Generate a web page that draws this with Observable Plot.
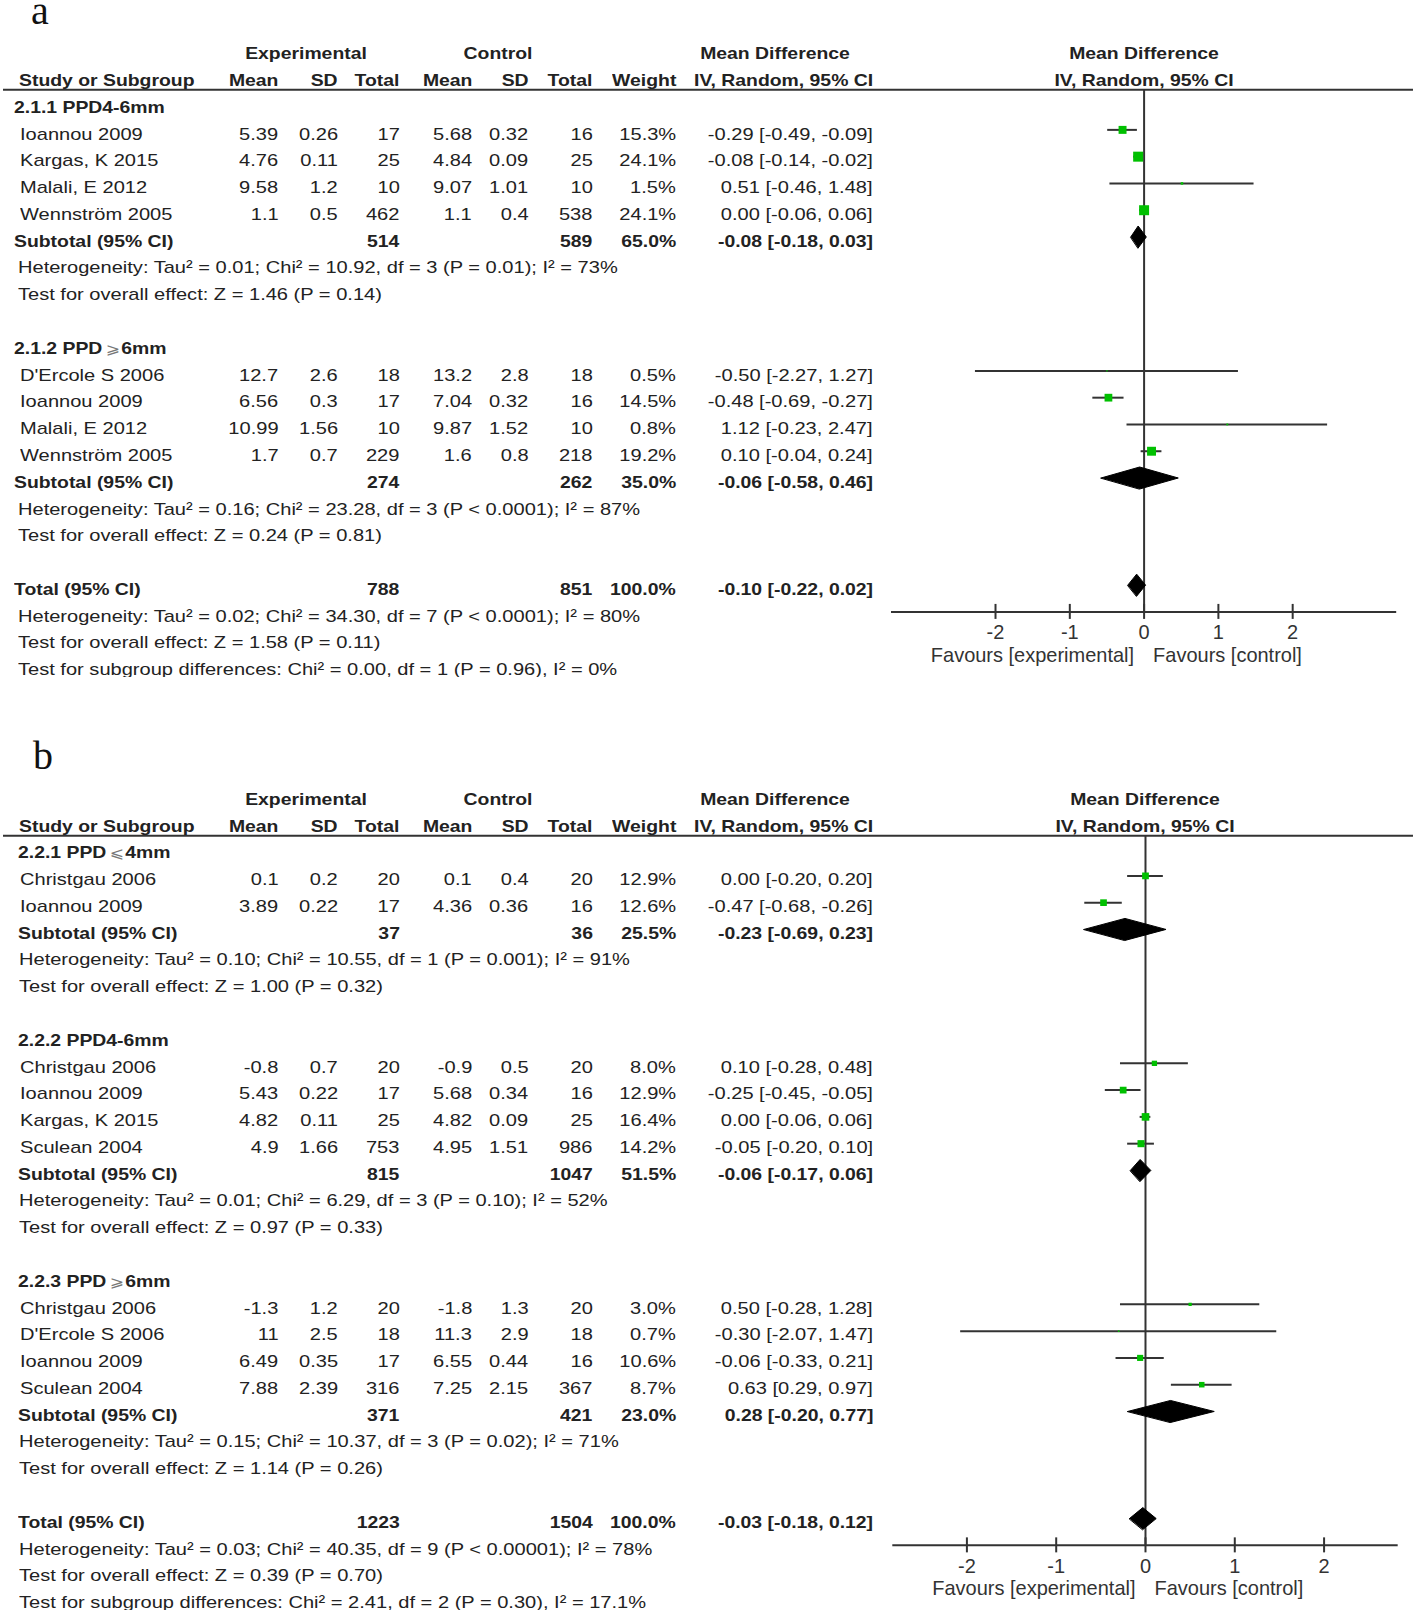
<!DOCTYPE html>
<html><head><meta charset="utf-8">
<script src="https://cdn.jsdelivr.net/npm/d3@7"></script>
<script src="https://cdn.jsdelivr.net/npm/@observablehq/plot@0.6"></script>
<style>
html,body{margin:0;padding:0;background:#fff;}
body{width:1418px;height:1614px;position:relative;overflow:hidden;font-family:'Liberation Sans',Arial,sans-serif;color:#222;}
.panel{position:absolute;left:0;width:1418px;overflow:hidden;}
.panel svg{position:absolute;left:0;top:0;}
.overlay{position:absolute;left:0;top:0;width:1418px;height:100%;}
.c{position:absolute;height:20px;line-height:20px;font-size:17px;white-space:nowrap;color:#222;}
.b{font-weight:700;}
.lbl{position:absolute;font-family:'Liberation Serif','DejaVu Serif',serif;font-size:40px;line-height:20px;height:20px;color:#111;}
.sym{font-family:'DejaVu Sans','Noto Sans CJK SC',sans-serif;font-weight:400;color:#777;font-size:15px;margin:0 1px 0 3px;}
</style></head><body>
<div class="lbl" style="left:31px;top:0.5px">a</div>
<div class="lbl" style="left:33px;top:745.8px">b</div>
<div class="panel" id="pa"></div>
<div class="panel" id="pb"></div>
<script>
// ---------------- DATA ----------------
// study rows: name, expMean, expSD, expN, ctlMean, ctlSD, ctlN, weight(%), MD, lower, upper
const titlesA = ["2.1.1 PPD4-6mm", "2.1.2 PPD ⩾6mm"];
const studiesA1 = [
  ["Ioannou 2009", 5.39, 0.26, 17, 5.68, 0.32, 16, 15.3, -0.29, -0.49, -0.09],
  ["Kargas, K 2015", 4.76, 0.11, 25, 4.84, 0.09, 25, 24.1, -0.08, -0.14, -0.02],
  ["Malali, E 2012", 9.58, 1.2, 10, 9.07, 1.01, 10, 1.5, 0.51, -0.46, 1.48],
  ["Wennström 2005", 1.1, 0.5, 462, 1.1, 0.4, 538, 24.1, 0.00, -0.06, 0.06]
];
const studiesA2 = [
  ["D'Ercole S 2006", 12.7, 2.6, 18, 13.2, 2.8, 18, 0.5, -0.50, -2.27, 1.27],
  ["Ioannou 2009", 6.56, 0.3, 17, 7.04, 0.32, 16, 14.5, -0.48, -0.69, -0.27],
  ["Malali, E 2012", 10.99, 1.56, 10, 9.87, 1.52, 10, 0.8, 1.12, -0.23, 2.47],
  ["Wennström 2005", 1.7, 0.7, 229, 1.6, 0.8, 218, 19.2, 0.10, -0.04, 0.24]
];
// subtotal: expN, ctlN, weight, MD, lower, upper
const subtotalsA = [[514, 589, 65.0, -0.08, -0.18, 0.03], [274, 262, 35.0, -0.06, -0.58, 0.46]];
const hetA = ["Heterogeneity: Tau² = 0.01; Chi² = 10.92, df = 3 (P = 0.01); I² = 73%",
              "Heterogeneity: Tau² = 0.16; Chi² = 23.28, df = 3 (P < 0.0001); I² = 87%"];
const testA = ["Test for overall effect: Z = 1.46 (P = 0.14)", "Test for overall effect: Z = 0.24 (P = 0.81)"];
const totalA = [788, 851, 100.0, -0.10, -0.22, 0.02];
const totalNotesA = ["Heterogeneity: Tau² = 0.02; Chi² = 34.30, df = 7 (P < 0.0001); I² = 80%",
                     "Test for overall effect: Z = 1.58 (P = 0.11)",
                     "Test for subgroup differences: Chi² = 0.00, df = 1 (P = 0.96), I² = 0%"];

const titlesB = ["2.2.1 PPD ⩽4mm", "2.2.2 PPD4-6mm", "2.2.3 PPD ⩾6mm"];
const studiesB1 = [
  ["Christgau 2006", 0.1, 0.2, 20, 0.1, 0.4, 20, 12.9, 0.00, -0.20, 0.20],
  ["Ioannou 2009", 3.89, 0.22, 17, 4.36, 0.36, 16, 12.6, -0.47, -0.68, -0.26]
];
const studiesB2 = [
  ["Christgau 2006", -0.8, 0.7, 20, -0.9, 0.5, 20, 8.0, 0.10, -0.28, 0.48],
  ["Ioannou 2009", 5.43, 0.22, 17, 5.68, 0.34, 16, 12.9, -0.25, -0.45, -0.05],
  ["Kargas, K 2015", 4.82, 0.11, 25, 4.82, 0.09, 25, 16.4, 0.00, -0.06, 0.06],
  ["Sculean 2004", 4.9, 1.66, 753, 4.95, 1.51, 986, 14.2, -0.05, -0.20, 0.10]
];
const studiesB3 = [
  ["Christgau 2006", -1.3, 1.2, 20, -1.8, 1.3, 20, 3.0, 0.50, -0.28, 1.28],
  ["D'Ercole S 2006", 11, 2.5, 18, 11.3, 2.9, 18, 0.7, -0.30, -2.07, 1.47],
  ["Ioannou 2009", 6.49, 0.35, 17, 6.55, 0.44, 16, 10.6, -0.06, -0.33, 0.21],
  ["Sculean 2004", 7.88, 2.39, 316, 7.25, 2.15, 367, 8.7, 0.63, 0.29, 0.97]
];
const subtotalsB = [[37, 36, 25.5, -0.23, -0.69, 0.23], [815, 1047, 51.5, -0.06, -0.17, 0.06], [371, 421, 23.0, 0.28, -0.20, 0.77]];
const hetB = ["Heterogeneity: Tau² = 0.10; Chi² = 10.55, df = 1 (P = 0.001); I² = 91%",
              "Heterogeneity: Tau² = 0.01; Chi² = 6.29, df = 3 (P = 0.10); I² = 52%",
              "Heterogeneity: Tau² = 0.15; Chi² = 10.37, df = 3 (P = 0.02); I² = 71%"];
const testB = ["Test for overall effect: Z = 1.00 (P = 0.32)", "Test for overall effect: Z = 0.97 (P = 0.33)",
               "Test for overall effect: Z = 1.14 (P = 0.26)"];
const totalB = [1223, 1504, 100.0, -0.03, -0.18, 0.12];
const totalNotesB = ["Heterogeneity: Tau² = 0.03; Chi² = 40.35, df = 9 (P < 0.00001); I² = 78%",
                     "Test for overall effect: Z = 0.39 (P = 0.70)",
                     "Test for subgroup differences: Chi² = 2.41, df = 2 (P = 0.30), I² = 17.1%"];

const headerTop = ["Experimental", "Control", "Mean Difference"];
const headerCols = ["Study or Subgroup", "Mean", "SD", "Total", "Mean", "SD", "Total", "Weight", "IV, Random, 95% CI"];
const forestHeader = ["Mean Difference", "IV, Random, 95% CI"];
const favours = ["Favours [experimental]", "Favours [control]"];
const TICKS = [-2, -1, 0, 1, 2];

// ---------------- LAYOUT / STYLE ----------------
const W = 1418, ROW = 26.78, Y0 = 102.6, TXT_DY = 5.2, SX = 1.18, SXB = 1.14;
const FONT = "'Liberation Sans', Arial, sans-serif";
const COLS = {em: 278.5, es: 338, et: 399.5, cm: 472, cs: 528.5, ct: 592.5, w: 676, ci: 873};
const TOPX = {exp: 306, ctl: 497.5, md: 775};

const fmtCI = (m, l, h) => `${m.toFixed(2)} [${l.toFixed(2)}, ${h.toFixed(2)}]`;
const fmtW = w => w.toFixed(1) + "%";

function addCell(ov, text, x, yc, align, bold) {
  const s = document.createElement("span");
  s.className = "c" + (bold ? " b" : "");
  const m = text.match(/[⩾⩽]/);
  if (m) {
    const parts = text.split(m[0]);
    s.append(parts[0].trimEnd());
    const sy = document.createElement("span"); sy.className = "sym"; sy.textContent = m[0];
    s.append(sy, parts[1]);
  } else s.textContent = text;
  const k = bold ? SXB : SX;
  s.style.top = (yc - 10) + "px";
  if (align === "left") { s.style.left = x + "px"; s.style.transformOrigin = "0 50%"; s.style.transform = `scaleX(${k})`; }
  else if (align === "right") { s.style.right = (W - x) + "px"; s.style.transformOrigin = "100% 50%"; s.style.transform = `scaleX(${k})`; }
  else { s.style.left = x + "px"; s.style.transformOrigin = "50% 50%"; s.style.transform = `translateX(-50%) scaleX(${k})`; }
  ov.append(s);
}

function buildPanel(elId, spec) {
  // row layout
  const rows = [];
  let i = 0;
  spec.groups.forEach((g, k) => {
    rows.push({i: i++, kind: "title", text: spec.titles[k]});
    g.forEach(s => rows.push({i: i++, kind: "study", s}));
    rows.push({i: i++, kind: "sub", s: spec.subtotals[k]});
    rows.push({i: i++, kind: "note", text: spec.het[k]});
    rows.push({i: i++, kind: "note", text: spec.test[k]});
    i++;
  });
  const totalRow = i;
  rows.push({i: i++, kind: "total", s: spec.total});
  spec.totalNotes.forEach(t => rows.push({i: i++, kind: "note", text: t}));
  const lastRow = i - 1;
  const axisRow = totalRow + 1;

  const axisY = Y0 + axisRow * ROW;
  const H = Y0 + lastRow * ROW + TXT_DY + 7;

  const studyData = rows.filter(r => r.kind === "study").map(r => ({row: r.i, w: r.s[7], md: r.s[8], lo: r.s[9], hi: r.s[10]}));
  const DH = 11 / ROW;
  const diamonds = rows.filter(r => r.kind === "sub" || r.kind === "total").flatMap((r, k) => {
    const [, , , md, lo, hi] = r.s;
    return [{id: k, x: lo, y: r.i}, {id: k, x: md, y: r.i - DH}, {id: k, x: hi, y: r.i}, {id: k, x: md, y: r.i + DH}];
  });
  const [d0, d1] = spec.xDomain;
  const TH = 7.5 / ROW;

  const chart = Plot.plot({
    width: W, height: H,
    marginLeft: 3, marginRight: 5, marginTop: 0, marginBottom: H - axisY,
    x: {domain: spec.xDomain, range: spec.xRange, label: null},
    y: {domain: [-0.5, axisRow], range: [Y0 - 0.5 * ROW, axisY], axis: null},
    r: {domain: [0, spec.rMaxW], range: [0, spec.rMax]},
    style: {fontFamily: FONT, fontSize: "20px", color: "#333", background: "transparent", overflow: "visible"},
    marks: [
      Plot.ruleY([-0.5], {stroke: "#333", strokeWidth: 2}),
      Plot.ruleX([0], {y1: () => -0.5, y2: () => axisRow, stroke: "#333", strokeWidth: 2}),
      Plot.ruleY(studyData, {y: "row", x1: "lo", x2: "hi", stroke: "#333", strokeWidth: 2}),
      Plot.dot(studyData, {x: "md", y: "row", r: "w", symbol: "square", fill: "#00c000"}),
      Plot.line(diamonds, {x: "x", y: "y", z: "id", curve: "linear-closed", fill: "#000", stroke: "#000", strokeWidth: 1}),
      Plot.ruleY([axisRow], {x1: () => d0, x2: () => d1, stroke: "#333", strokeWidth: 2}),
      Plot.ruleX(TICKS, {x: d => d, y1: () => axisRow - TH, y2: () => axisRow + TH, stroke: "#333", strokeWidth: 2}),
      Plot.axisX({ticks: TICKS, tickSize: 0, tickPadding: 13, tickFormat: d => String(d), label: null, fontSize: 20}),
      Plot.text([favours[0]], {x: [0], text: d => d, frameAnchor: "bottom", lineAnchor: "middle", dy: 43.4, dx: -10, textAnchor: "end", fontSize: 20, fill: "#333"}),
      Plot.text([favours[1]], {x: [0], text: d => d, frameAnchor: "bottom", lineAnchor: "middle", dy: 43.4, dx: 9, textAnchor: "start", fontSize: 20, fill: "#333"})
    ]
  });

  const el = document.getElementById(elId);
  el.style.top = spec.top + "px";
  el.style.height = H + "px";
  el.append(chart);
  const ov = document.createElement("div");
  ov.className = "overlay";
  el.append(ov);

  const ys = chart.scale("y"), xs = chart.scale("x");
  const ty = k => ys.apply(k) + TXT_DY;
  const x0 = xs.apply(0);

  // header rows
  addCell(ov, headerTop[0], TOPX.exp, ty(-2), "center", true);
  addCell(ov, headerTop[1], TOPX.ctl, ty(-2), "center", true);
  addCell(ov, headerTop[2], TOPX.md, ty(-2), "center", true);
  addCell(ov, forestHeader[0], x0, ty(-2), "center", true);
  const colKeys = ["em", "es", "et", "cm", "cs", "ct", "w", "ci"];
  addCell(ov, headerCols[0], spec.leftName - 0.5, ty(-1), "left", true);
  colKeys.forEach((c, k) => addCell(ov, headerCols[k + 1], COLS[c], ty(-1), "right", true));
  addCell(ov, forestHeader[1], x0, ty(-1), "center", true);

  for (const r of rows) {
    const y = ty(r.i);
    if (r.kind === "title") addCell(ov, r.text, spec.leftBold, y, "left", true);
    else if (r.kind === "note") addCell(ov, r.text, spec.leftText, y, "left", false);
    else if (r.kind === "study") {
      const s = r.s;
      addCell(ov, s[0], spec.leftName, y, "left", false);
      [s[1], s[2], s[3], s[4], s[5], s[6]].forEach((v, k) => addCell(ov, String(v), COLS[colKeys[k]], y, "right", false));
      addCell(ov, fmtW(s[7]), COLS.w, y, "right", false);
      addCell(ov, fmtCI(s[8], s[9], s[10]), COLS.ci, y, "right", false);
    } else {
      const s = r.s;
      addCell(ov, r.kind === "sub" ? "Subtotal (95% CI)" : "Total (95% CI)", spec.leftBold, y, "left", true);
      addCell(ov, String(s[0]), COLS.et, y, "right", true);
      addCell(ov, String(s[1]), COLS.ct, y, "right", true);
      addCell(ov, fmtW(s[2]), COLS.w, y, "right", true);
      addCell(ov, fmtCI(s[3], s[4], s[5]), COLS.ci, y, "right", true);
    }
  }
}

buildPanel("pa", {
  top: 0, titles: titlesA, groups: [studiesA1, studiesA2], subtotals: subtotalsA,
  het: hetA, test: testA, total: totalA, totalNotes: totalNotesA,
  xDomain: [-3.4, 3.4], xRange: [891.0, 1396.2], rMaxW: 24.1, rMax: 5.64,
  leftBold: 14, leftName: 19.5, leftText: 18
});
buildPanel("pb", {
  top: 745.5, titles: titlesB, groups: [studiesB1, studiesB2, studiesB3], subtotals: subtotalsB,
  het: hetB, test: testB, total: totalB, totalNotes: totalNotesB,
  xDomain: [-2.83, 2.83], xRange: [892.3, 1397.7], rMaxW: 16.4, rMax: 4.29,
  leftBold: 18, leftName: 19.5, leftText: 19
});
</script>
</body></html>
